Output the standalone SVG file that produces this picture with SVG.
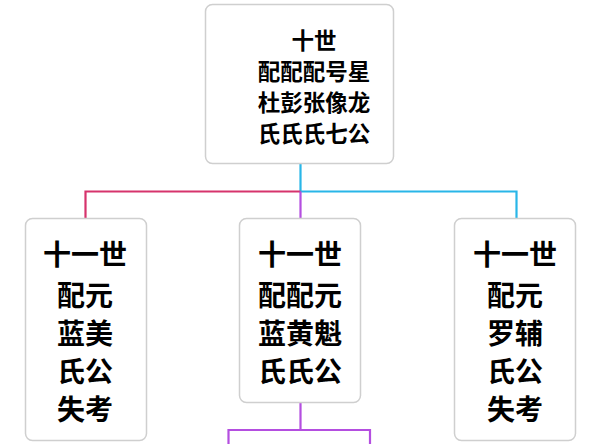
<svg xmlns="http://www.w3.org/2000/svg" width="600" height="444" viewBox="0 0 600 444">
<style>
.box{fill:#fff;stroke:#cfcfcf;stroke-width:1.5}
.t{font-family:"Noto Sans CJK SC","Noto Sans",sans-serif;font-weight:bold;fill:#000;text-anchor:middle;dominant-baseline:central}
.s{font-size:22.5px}
.l{font-size:28px}
.c{fill:none;stroke-width:2.2}
</style>
<rect width="600" height="444" fill="#fff"/>
<g id="connectors">
<path class="c" stroke="#29b6e8" d="M300.5 164V191.5H516.5V218"/>
<path class="c" stroke="#d6336c" d="M300.5 191.5H85.5V218"/>
<path class="c" stroke="#b44ee0" d="M300.5 191.5V218"/>
<path class="c" stroke="#b44ee0" d="M300.5 403V430H228.5V444M300.5 430H370V444"/>
</g>
<g id="n0">
<rect class="box" x="205.5" y="4.5" width="188" height="159" rx="7"/>
<text class="t s"><tspan x="314" y="39">十世</tspan><tspan x="314" y="70">配配配号星</tspan><tspan x="314" y="101">杜彭张像龙</tspan><tspan x="314" y="132">氏氏氏七公</tspan></text>
</g>
<g id="n1">
<rect class="box" x="25.5" y="218.5" width="121" height="222" rx="7"/>
<text class="t l"><tspan x="85" y="253">十一世</tspan><tspan x="85" y="294">配元</tspan><tspan x="85" y="332">蓝美</tspan><tspan x="85" y="370">氏公</tspan><tspan x="85" y="408">失考</tspan></text>
</g>
<g id="n2">
<rect class="box" x="239.5" y="218.5" width="121" height="184" rx="7"/>
<text class="t l"><tspan x="300" y="253">十一世</tspan><tspan x="300" y="294">配配元</tspan><tspan x="300" y="332">蓝黄魁</tspan><tspan x="300" y="370">氏氏公</tspan></text>
</g>
<g id="n3">
<rect class="box" x="454.5" y="218.5" width="121" height="222" rx="7"/>
<text class="t l"><tspan x="515" y="253">十一世</tspan><tspan x="515" y="294">配元</tspan><tspan x="515" y="332">罗辅</tspan><tspan x="515" y="370">氏公</tspan><tspan x="515" y="408">失考</tspan></text>
</g>
</svg>
